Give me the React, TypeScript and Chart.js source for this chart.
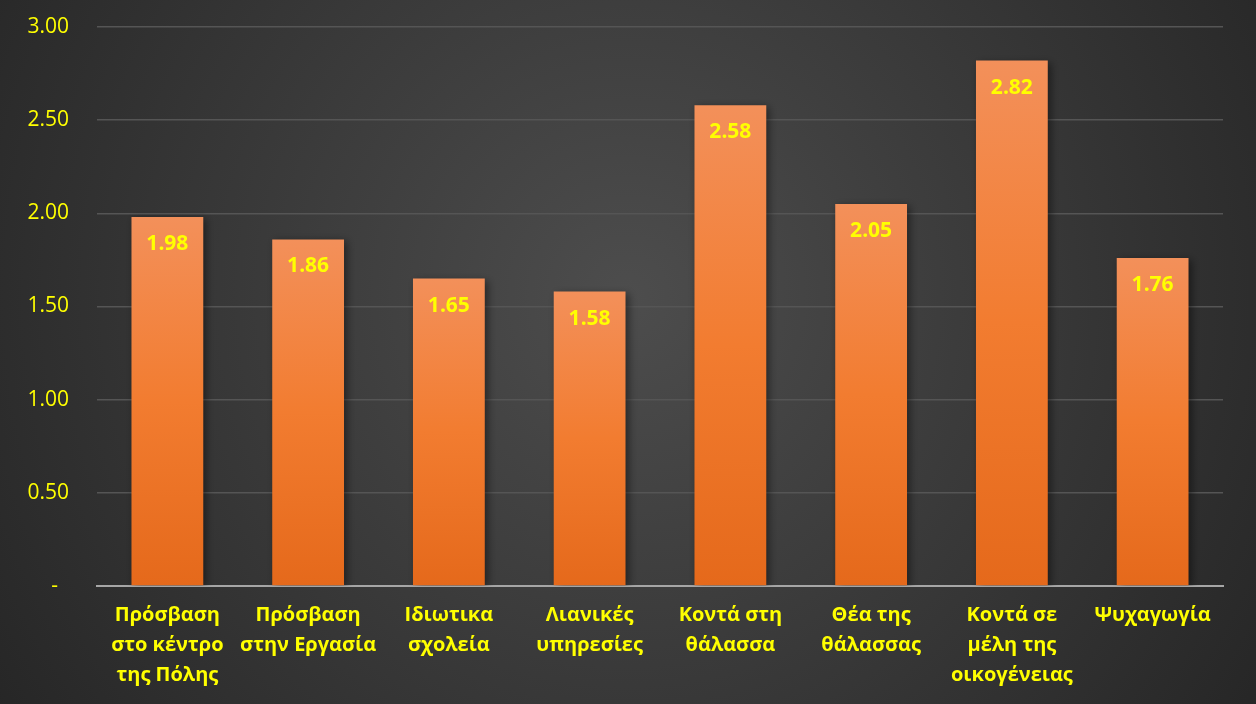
import React, { useEffect, useRef } from "react";
import { Chart, registerables } from "chart.js";

Chart.register(...registerables);

const categories: string[][] = [
  ["Πρόσβαση", "στο κέντρο", "της Πόλης"],
  ["Πρόσβαση", "στην Εργασία"],
  ["Ιδιωτικα", "σχολεία"],
  ["Λιανικές", "υπηρεσίες"],
  ["Κοντά στη", "θάλασσα"],
  ["Θέα της", "θάλασσας"],
  ["Κοντά σε", "μέλη της", "οικογένειας"],
  ["Ψυχαγωγία"],
];
const values: number[] = [1.98, 1.86, 1.65, 1.58, 2.58, 2.05, 2.82, 1.76];
const yTicks: number[] = [0, 0.5, 1, 1.5, 2, 2.5, 3];

const FONT = "'Open Sans', 'Noto Sans', sans-serif";
const YELLOW = "#FFFF00";

const bgPlugin = {
  id: "bgPlugin",
  beforeDraw(chart: any) {
    const { ctx, width, height } = chart;
    ctx.save();
    const g = ctx.createRadialGradient(width * 0.5, height * 0.42, 0, width * 0.5, height * 0.42, width * 0.62);
    g.addColorStop(0, "#4d4d4d");
    g.addColorStop(1, "#252525");
    ctx.fillStyle = g;
    ctx.fillRect(0, 0, width, height);
    ctx.restore();
  },
  beforeDatasetsDraw(chart: any) {
    const ctx = chart.ctx;
    ctx.save();
    ctx.shadowColor = "rgba(0,0,0,0.45)";
    ctx.shadowBlur = 8;
    ctx.shadowOffsetX = 3;
    ctx.shadowOffsetY = 2;
  },
  afterDatasetsDraw(chart: any) {
    const ctx = chart.ctx;
    ctx.restore();
    const meta = chart.getDatasetMeta(0);
    ctx.save();
    ctx.font = `bold 21px ${FONT}`;
    ctx.fillStyle = YELLOW;
    ctx.textAlign = "center";
    ctx.textBaseline = "middle";
    meta.data.forEach((el: any, i: number) => {
      ctx.fillText(values[i].toFixed(2), el.x, el.y + 27);
    });
    ctx.restore();
  },
};

export default function App() {
  const ref = useRef<HTMLCanvasElement | null>(null);
  useEffect(() => {
    if (!ref.current) return;
    const chart = new Chart(ref.current, {
      type: "bar",
      data: {
        labels: categories,
        datasets: [
          {
            data: values,
            backgroundColor: (c: any) => {
              const ch = c.chart;
              const y = ch.scales && ch.scales.y;
              if (!ch.chartArea || !y || c.raw === undefined) return "#ee7a35";
              const top = y.getPixelForValue(c.raw);
              const base = y.getPixelForValue(0);
              const g = ch.ctx.createLinearGradient(0, top, 0, base);
              g.addColorStop(0, "#f3905a");
              g.addColorStop(0.5, "#f27c30");
              g.addColorStop(1, "#e5691b");
              return g;
            },
            borderWidth: 0,
            barPercentage: 0.51,
            categoryPercentage: 1,
          },
        ],
      },
      options: {
        responsive: false,
        animation: false,
        layout: { padding: { left: 0, right: 33, top: 27, bottom: 0 } },
        plugins: { legend: { display: false }, tooltip: { enabled: false } },
        scales: {
          x: {
            grid: { display: false, drawTicks: false },
            border: { display: true, color: "#a6a6a6", width: 2 },
            ticks: {
              color: YELLOW,
              font: { family: FONT, size: 20, weight: "bold", lineHeight: 1.5 },
              padding: 14,
              maxRotation: 0,
              autoSkip: false,
            },
            afterFit: (s: any) => {
              s.height = 118;
              s.paddingLeft = 0;
              s.paddingRight = 0;
            },
          },
          y: {
            min: 0,
            max: 3,
            afterBuildTicks: (s: any) => {
              s.ticks = yTicks.map((v) => ({ value: v }));
            },
            grid: { color: "#555555", lineWidth: 1.5, drawTicks: false },
            border: { display: false },
            ticks: {
              color: YELLOW,
              font: { family: FONT, size: 21 },
              padding: 28,
              callback: (v: any) => (Number(v) === 0 ? "-  " : Number(v).toFixed(2)),
            },
            afterFit: (s: any) => {
              s.width = 97;
              s.paddingTop = 0;
              s.paddingBottom = 0;
            },
          },
        },
      },
      plugins: [bgPlugin],
    } as any);
    return () => chart.destroy();
  }, []);
  return (
    <div style={{ position: "fixed", left: 0, top: 0, width: 1256, height: 704 }}>
      <canvas ref={ref} width={1256} height={704} style={{ display: "block" }} />
    </div>
  );
}
